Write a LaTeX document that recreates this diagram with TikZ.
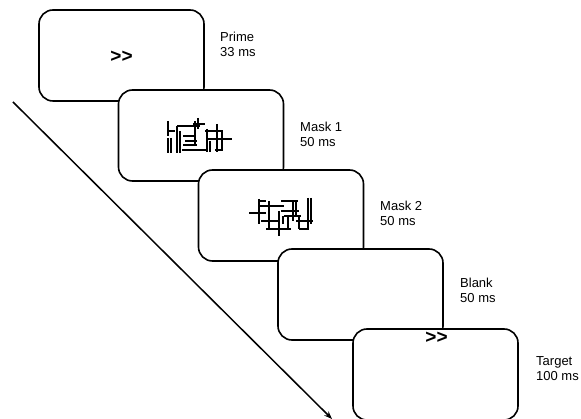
\documentclass[tikz,border=0pt]{standalone}
\usepackage{fontspec}
\setmainfont{Liberation Sans}[Ligatures=NoCommon]
\usetikzlibrary{arrows.meta}
\tikzset{
  screen/.style={draw=black, line width=1.6pt, rounded corners=14pt, fill=white,
    minimum width=165pt, minimum height=91pt, inner sep=0pt},
  lbl/.style={anchor=base west, align=left, inner sep=0pt,
    font=\fontsize{13}{15}\selectfont},
  arrowsym/.style={inner sep=0pt, font=\fontsize{19}{19}\selectfont\bfseries},
  maskline/.style={line width=1.6pt, line cap=butt},
  timeline/.style={line width=1.5pt, -{Stealth[length=8pt,width=6pt]}}
}
\begin{document}
\begin{tikzpicture}[x=1pt,y=-1pt]
\useasboundingbox (0,0) rectangle (581,419);
% time arrow
\coordinate (tstart) at (13,102);
\coordinate (tend) at (332,419);
\draw[timeline] (tstart) -- (tend);
% Prime
\node[screen] (prime) at (121.5,55.5) {};
\node[arrowsym] (primesym) at (121.5,57) {{>}{>}};
\node[lbl] (primelbl) at (220,57) {Prime\\33 ms};
% Mask 1
\node[screen] (mask1) at (201,135.5) {};
\draw[maskline]
  (168,121) -- (168,136)
  (168,138) -- (168,153) (171,138) -- (171,153)
  (168,131) -- (175,131)
  (177,126) -- (177,153)
  (180,131) -- (180,153)
  (177,126) -- (200,126)
  (195,121) -- (195,146)
  (198,118) -- (198,129)
  (193,124) -- (205,124)
  (183,136) -- (195,136)
  (185,141) -- (197,141)
  (182,150) -- (208,150)
  (183,145) -- (197,145)
  (207,129) -- (207,152)
  (205,131) -- (223,131)
  (217,124) -- (217,152)
  (207,139) -- (232,139)
  (222,131) -- (222,150)
  (215,150) -- (223,150)
  (210,141) -- (210,152);
\node[lbl] (mask1lbl) at (300,147) {Mask 1\\50 ms};
% Mask 2
\node[screen] (mask2) at (281,215.5) {};
\draw[maskline]
  (249,213) -- (266,213)
  (259,199) -- (259,224)
  (258,201) -- (266,201)
  (258,206) -- (284,206)
  (269,201) -- (269,229)
  (261,221) -- (279,221)
  (279,211) -- (279,236)
  (266,229) -- (291,229)
  (281,201) -- (298,201)
  (293,201) -- (293,221)
  (296,201) -- (296,216)
  (281,211) -- (299,211)
  (284,216) -- (301,216)
  (288,216) -- (288,229)
  (299,216) -- (299,229)
  (296,221) -- (313,221)
  (308,198) -- (308,228)
  (311,198) -- (311,224)
  (299,229) -- (309,229)
  (283,216) -- (283,224);
\node[lbl] (mask2lbl) at (380,226) {Mask 2\\50 ms};
% Blank
\node[screen] (blank) at (360.5,294.5) {};
\node[lbl] (blanklbl) at (460,303) {Blank\\50 ms};
% Target
\node[screen] (target) at (435.5,374.5) {};
\node[arrowsym] (targetsym) at (436.5,338) {{>}{>}};
\node[lbl] (targetlbl) at (536,381) {Target\\100 ms};
\end{tikzpicture}
\end{document}
